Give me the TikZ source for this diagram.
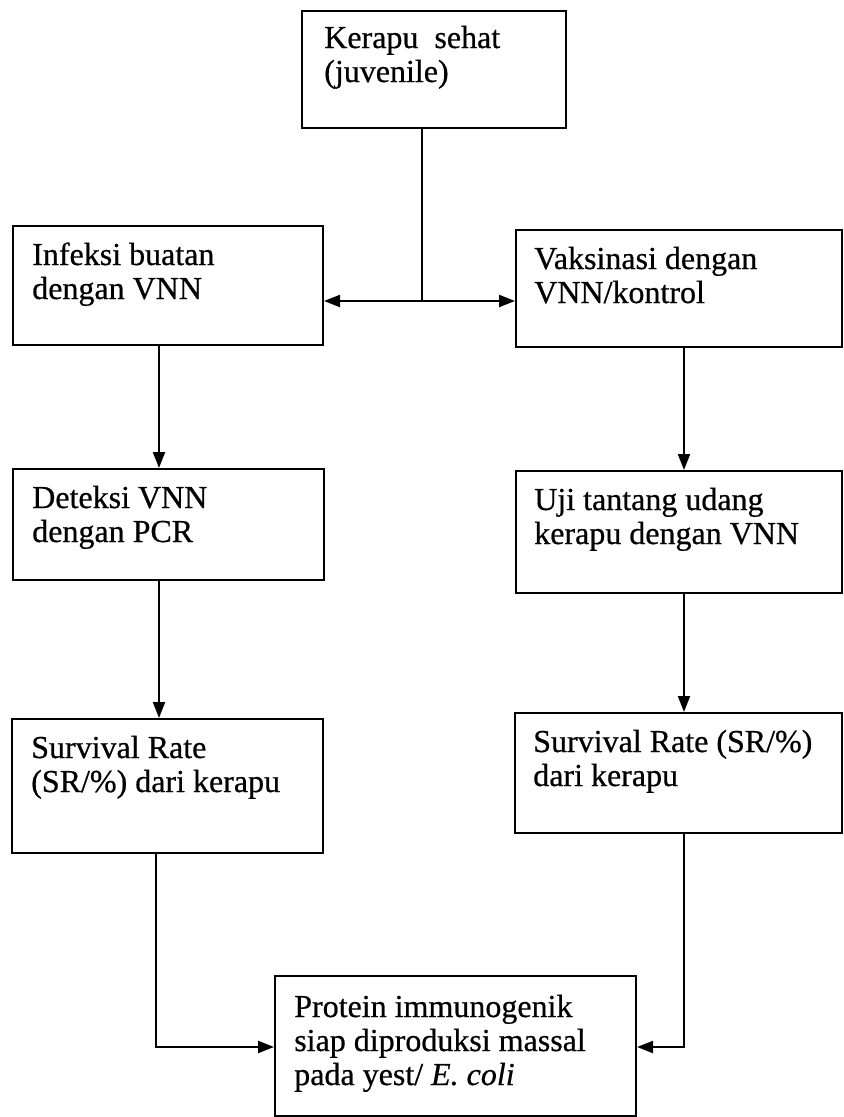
\documentclass[tikz,border=0pt]{standalone}
\usepackage{fontspec}
\setmainfont{Liberation Serif}[FakeBold=0.6,BoldFont={Liberation Serif},ItalicFeatures={FakeBold=0.6}]
\usetikzlibrary{arrows.meta,calc,fit}
\newcommand\twolines[2]{\vtop{\hbox{\strut #1}\hbox{\strut #2}}}
\newcommand\threelines[3]{\vtop{\hbox{\strut #1}\hbox{\strut #2}\hbox{\strut #3}}}
\begin{document}
\begin{tikzpicture}[x=0.75pt,y=-0.75pt,
  box/.style={draw, line width=1.5pt, inner sep=0pt},
  txt/.style={anchor=base west, inner sep=0pt, font=\fontsize{24pt}{25.5pt}\selectfont\bfseries},
  conn/.style={line width=1.6pt},
  arr/.style={line width=1.6pt, -{Triangle[length=12pt,width=9pt]}}]
\useasboundingbox (0,0) rectangle (843,1117);
% boxes
\node[box, fit={(302,11) (566,128)}] (T) {};
\node[box, fit={(13,226) (323,345)}] (L1) {};
\node[box, fit={(516,230) (842,347)}] (R1) {};
\node[box, fit={(13,469) (324,580)}] (L2) {};
\node[box, fit={(516,471) (842,593)}] (R2) {};
\node[box, fit={(12,719) (323,853)}] (L3) {};
\node[box, fit={(515,713) (842,833)}] (R3) {};
\node[box, fit={(275,976) (636,1116)}] (B) {};
% texts
\node[txt] (Tt) at ($(T.north west)+(23,38)$) {\twolines{Kerapu\ \ sehat}{(juvenile)}};
\node[txt] (L1t) at ($(L1.north west)+(20,40)$) {\twolines{Infeksi buatan}{dengan VNN}};
\node[txt] (R1t) at ($(R1.north west)+(19,40)$) {\twolines{Vaksinasi dengan}{VNN/kontrol}};
\node[txt] (L2t) at ($(L2.north west)+(20,40)$) {\twolines{Deteksi VNN}{dengan PCR}};
\node[txt] (R2t) at ($(R2.north west)+(19,40)$) {\twolines{Uji tantang udang}{kerapu dengan VNN}};
\node[txt] (L3t) at ($(L3.north west)+(20,40)$) {\twolines{Survival Rate}{(SR/\%) dari kerapu}};
\node[txt] (R3t) at ($(R3.north west)+(19,40)$) {\twolines{Survival Rate (SR/\%)}{dari kerapu}};
\node[txt] (Bt) at ($(B.north west)+(20,42)$) {\threelines{Protein immunogenik}{siap diproduksi massal}{pada yest/ \textit{E. coli}}};
% connectors
\coordinate (J) at (422,301);
\coordinate (xl) at (159,0);
\coordinate (xlb) at (156,0);
\coordinate (xr) at (684,0);
\coordinate (yb) at (0,1047);
\draw[conn] (J |- T.south) -- (J);
\draw[arr] (J) -- (J -| L1.east);
\draw[arr] (J) -- (J -| R1.west);
\draw[arr] (L1.south -| xl) -- (L2.north -| xl);
\draw[arr] (L2.south -| xl) -- (L3.north -| xl);
\draw[arr] (R1.south -| xr) -- (R2.north -| xr);
\draw[arr] (R2.south -| xr) -- (R3.north -| xr);
\draw[arr] (L3.south -| xlb) -- (yb -| xlb) -- (yb -| B.west);
\draw[arr] (R3.south -| xr) -- (yb -| xr) -- (yb -| B.east);
\end{tikzpicture}
\end{document}
